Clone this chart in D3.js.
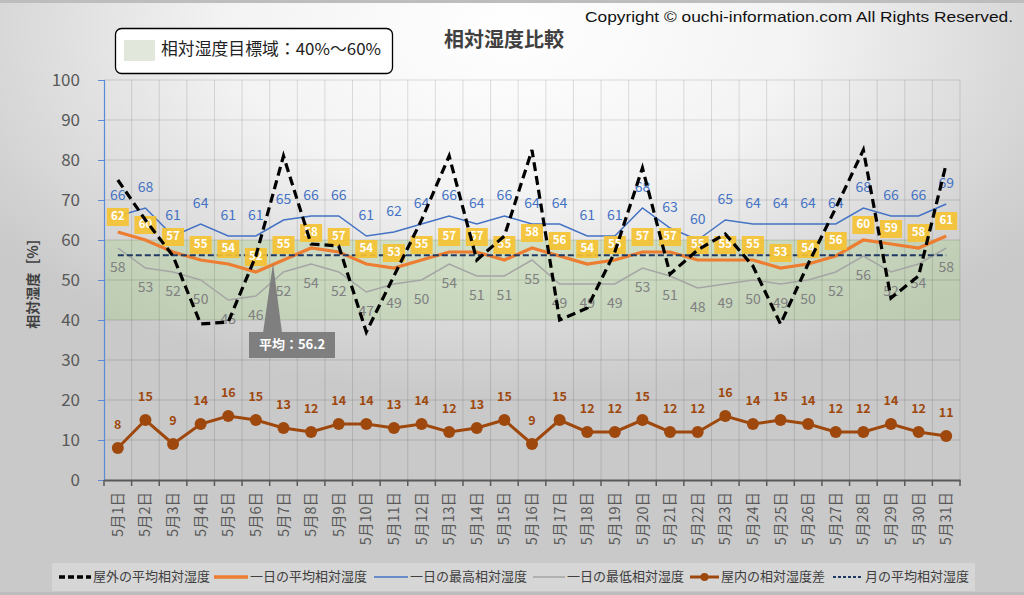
<!DOCTYPE html>
<html><head><meta charset="utf-8">
<script src="https://cdn.jsdelivr.net/npm/d3@7"></script>
<style>
html,body{margin:0;padding:0;background:#fff;}
svg{display:block;}
</style></head>
<body>
<script>
const categories = ["5月1日","5月2日","5月3日","5月4日","5月5日","5月6日","5月7日","5月8日","5月9日","5月10日","5月11日","5月12日","5月13日","5月14日","5月15日","5月16日","5月17日","5月18日","5月19日","5月20日","5月21日","5月22日","5月23日","5月24日","5月25日","5月26日","5月27日","5月28日","5月29日","5月30日","5月31日"];
const outdoorAvg = [75,65,56,39,39.5,56,81,59,58.5,37,51,65,81,55,61,82.5,40,43,57,78,51.5,57.5,61.5,53.5,39,54,68,82.5,45.5,51,79];
const dailyAvg = [62,60,57,55,54,52,55,58,57,54,53,55,57,57,55,58,56,54,55,57,57,55,55,55,53,54,56,60,59,58,61];
const dailyMax = [66,68,61,64,61,61,65,66,66,61,62,64,66,64,66,64,64,61,61,68,63,60,65,64,64,64,64,68,66,66,69];
const dailyMin = [58,53,52,50,45,46,52,54,52,47,49,50,54,51,51,55,49,49,49,53,51,48,49,50,49,50,52,56,52,54,58];
const indoorDiff = [8,15,9,14,16,15,13,12,14,14,13,14,12,13,15,9,15,12,12,15,12,12,16,14,15,14,12,12,14,12,11];
const monthAvg = 56.2;
const yTicks = [0,10,20,30,40,50,60,70,80,90,100];
const targetRange = [40,60];
const legendNames = ["屋外の平均相対湿度","一日の平均相対湿度","一日の最高相対湿度","一日の最低相対湿度","屋内の相対湿度差","月の平均相対湿度"];

const W=1024,H=595;
const JP = "'Noto Sans CJK JP','Noto Sans',sans-serif";
const svg = d3.select("body").append("svg").attr("width",W).attr("height",H);
const defs = svg.append("defs");
const rg = defs.append("radialGradient").attr("id","bg").attr("cx","0.5").attr("cy","0.05").attr("r","0.62");
rg.append("stop").attr("offset","0").attr("stop-color","#ffffff");
rg.append("stop").attr("offset","0.45").attr("stop-color","#f3f3f3");
rg.append("stop").attr("offset","1").attr("stop-color","#c9c9c9");
svg.append("rect").attr("width",W).attr("height",H).attr("fill","url(#bg)");
svg.append("rect").attr("x",0).attr("y",0).attr("width",W).attr("height",3).attr("fill","#bdbdbd");
svg.append("rect").attr("x",0).attr("y",H-3).attr("width",W).attr("height",3).attr("fill","#bdbdbd");

const x = d3.scaleBand().domain(categories).range([104,960]);
const y = d3.scaleLinear().domain([0,100]).range([480,80]);
const cx = d => x(d)+x.bandwidth()/2;

// target band
svg.append("rect").attr("x",104).attr("width",856)
  .attr("y",y(targetRange[1])).attr("height",y(targetRange[0])-y(targetRange[1]))
  .attr("fill","rgb(169,208,142)").attr("opacity",0.38);

// gridlines
const grid = svg.append("g");
grid.selectAll("line.h").data(yTicks.filter(t=>t>0)).join("line")
  .attr("x1",104).attr("x2",960).attr("y1",d=>y(d)).attr("y2",d=>y(d))
  .attr("stroke","#000").attr("stroke-opacity",0.13).attr("stroke-width",1);
grid.selectAll("line.v").data(categories.slice(1)).join("line")
  .attr("x1",d=>x(d)).attr("x2",d=>x(d)).attr("y1",80).attr("y2",480)
  .attr("stroke","#000").attr("stroke-opacity",0.12).attr("stroke-width",1);
grid.append("line").attr("x1",960).attr("x2",960).attr("y1",80).attr("y2",480)
  .attr("stroke","#000").attr("stroke-opacity",0.12);

// y axis
const yAxis = svg.append("g").attr("transform","translate(104,0)")
  .call(d3.axisLeft(y).tickValues(yTicks).tickSize(6).tickPadding(18));
yAxis.select(".domain").attr("stroke","#5b8bd6").attr("stroke-width",1.2);
yAxis.selectAll(".tick line").attr("stroke","#5b8bd6");
yAxis.selectAll(".tick text").attr("font-family",JP).attr("font-size","17px").attr("fill","#595959");

// x axis
const xAxis = svg.append("g").attr("transform","translate(0,480)")
  .call(d3.axisBottom(x).tickSize(0).tickSizeOuter(0));
xAxis.select(".domain").attr("stroke","#595959").attr("stroke-width",2);
xAxis.selectAll(".tick text").attr("font-family",JP).attr("font-size","14.5px").attr("fill","#595959")
  .attr("transform","rotate(-90)").attr("text-anchor","end").attr("dx","-12px").attr("dy","0.35em").attr("y",0);
svg.append("g").selectAll("line").data(categories.concat(["end"])).join("line")
  .attr("x1",(d,i)=>104+i*x.step()).attr("x2",(d,i)=>104+i*x.step())
  .attr("y1",480).attr("y2",486).attr("stroke","#595959").attr("stroke-width",1.5);

// y axis title
svg.append("text").attr("transform","translate(34,280) rotate(-90)").attr("text-anchor","middle")
  .attr("dominant-baseline","middle").attr("font-family",JP).attr("font-weight","bold")
  .attr("font-size","14px").attr("fill","#404040").text("相対湿度［%］");

const line = d3.line().x((d,i)=>cx(categories[i])).y(d=>y(d));

// series lines
svg.append("path").datum(dailyMin).attr("d",line).attr("fill","none").attr("stroke","#a5a5a5").attr("stroke-width",1.5);
svg.append("path").datum(dailyMax).attr("d",line).attr("fill","none").attr("stroke","#4472c4").attr("stroke-width",1.5);
svg.append("path").datum(dailyAvg).attr("d",line).attr("fill","none").attr("stroke","#ed7d31").attr("stroke-width",3.2);
svg.append("path").datum(categories.map(()=>monthAvg)).attr("d",line).attr("fill","none")
  .attr("stroke","#203864").attr("stroke-width",2).attr("stroke-dasharray","6,3");
svg.append("path").datum(indoorDiff).attr("d",line).attr("fill","none").attr("stroke","#9e480e").attr("stroke-width",3);
svg.append("g").selectAll("circle").data(indoorDiff).join("circle")
  .attr("cx",(d,i)=>cx(categories[i])).attr("cy",d=>y(d)).attr("r",6).attr("fill","#9e480e");

// labels
svg.append("g").selectAll("text").data(dailyMax).join("text")
  .attr("x",(d,i)=>cx(categories[i])).attr("y",d=>y(d)-20)
  .attr("text-anchor","middle").attr("dominant-baseline","middle")
  .attr("font-family",JP).attr("font-size","14px").attr("fill","#4472c4").text(d=>d);
svg.append("g").selectAll("text").data(dailyMin).join("text")
  .attr("x",(d,i)=>cx(categories[i])).attr("y",d=>y(d)+20)
  .attr("text-anchor","middle").attr("dominant-baseline","middle")
  .attr("font-family",JP).attr("font-size","14px").attr("fill","#808080").text(d=>d);
const ob = svg.append("g").selectAll("g").data(dailyAvg).join("g")
  .attr("transform",(d,i)=>`translate(${cx(categories[i])},${y(d)-15})`);
ob.append("rect").attr("x",-11).attr("y",-9).attr("width",22).attr("height",18).attr("fill","#f5c232").attr("opacity",0.92);
ob.append("text").attr("text-anchor","middle").attr("dominant-baseline","middle")
  .attr("font-family",JP).attr("font-weight","bold").attr("font-size","11.5px").attr("fill","#fff").text(d=>d);
svg.append("g").selectAll("text").data(indoorDiff).join("text")
  .attr("x",(d,i)=>cx(categories[i])).attr("y",d=>y(d)-22)
  .attr("text-anchor","middle").attr("dominant-baseline","middle")
  .attr("font-family",JP).attr("font-weight","bold").attr("font-size","12.5px").attr("fill","#9e480e").text(d=>d);

// outdoor dashed (on top)
svg.append("path").datum(outdoorAvg).attr("d",line).attr("fill","none").attr("stroke","#000")
  .attr("stroke-width",3.2).attr("stroke-dasharray","9,5");

// callout for monthly average
const tipX = 273, tipY = y(monthAvg)+8;
svg.append("path").attr("d",`M${tipX},${tipY} L${tipX-10},333 L${tipX+9},333 Z`).attr("fill","#7f7f7f");
svg.append("rect").attr("x",249).attr("y",332).attr("width",86).attr("height",26).attr("fill","#7f7f7f");
svg.append("text").attr("x",292).attr("y",345.5).attr("text-anchor","middle").attr("dominant-baseline","middle")
  .attr("font-family",JP).attr("font-weight","bold").attr("font-size","13px").attr("fill","#fff").text("平均：" + monthAvg);

// title & copyright
svg.append("text").attr("x",504).attr("y",42).attr("text-anchor","middle").attr("dominant-baseline","middle")
  .attr("font-family",JP).attr("font-size","20px").attr("font-weight","bold").attr("fill","#404040").text("相対湿度比較");
svg.append("text").attr("x",585).attr("y",18).attr("dominant-baseline","middle")
  .attr("font-family","'Liberation Sans',Arial,sans-serif").attr("font-size","15.5px").attr("fill","#111")
  .attr("textLength",428).attr("lengthAdjust","spacingAndGlyphs")
  .text("Copyright © ouchi-information.com All Rights Reserved.");

// target legend box
svg.append("rect").attr("x",115.5).attr("y",28.5).attr("width",277).attr("height",45).attr("rx",6)
  .attr("fill","#fff").attr("stroke","#000").attr("stroke-width",1.3);
svg.append("rect").attr("x",124).attr("y",40).attr("width",31).attr("height",21).attr("fill","#e2e7dc");
svg.append("text").attr("x",161).attr("y",51).attr("dominant-baseline","middle")
  .attr("font-family",JP).attr("font-size","16.5px").attr("fill","#222")
  .attr("textLength",220).attr("lengthAdjust","spacingAndGlyphs")
  .text("相対湿度目標域：" + targetRange[0] + "%〜" + targetRange[1] + "%");

// bottom legend
svg.append("rect").attr("x",52).attr("y",563).attr("width",923).attr("height",28).attr("fill","#fff").attr("opacity",0.25);
const legendSpecs = [
  {x1:59,x2:91,stroke:"#000",w:3.5,dash:"6,3",name:legendNames[0]},
  {x1:214,x2:248,stroke:"#ed7d31",w:3.5,dash:null,name:legendNames[1]},
  {x1:374,x2:408,stroke:"#4472c4",w:1.5,dash:null,name:legendNames[2]},
  {x1:533,x2:565,stroke:"#a5a5a5",w:1.5,dash:null,name:legendNames[3]},
  {x1:690,x2:719,stroke:"#9e480e",w:3,dash:null,name:legendNames[4],marker:true},
  {x1:833,x2:863,stroke:"#203864",w:2,dash:"3,2",name:legendNames[5]}
];
const lg = svg.append("g").selectAll("g").data(legendSpecs).join("g");
lg.append("line").attr("x1",d=>d.x1).attr("x2",d=>d.x2).attr("y1",577).attr("y2",577)
  .attr("stroke",d=>d.stroke).attr("stroke-width",d=>d.w).attr("stroke-dasharray",d=>d.dash);
lg.filter(d=>d.marker).append("circle").attr("cx",d=>(d.x1+d.x2)/2).attr("cy",577).attr("r",4).attr("fill","#9e480e");
lg.append("text").attr("x",d=>d.x2+2).attr("y",577.5).attr("dominant-baseline","middle")
  .attr("font-family",JP).attr("font-size","13px").attr("fill","#404040").text(d=>d.name);
</script>
</body></html>
